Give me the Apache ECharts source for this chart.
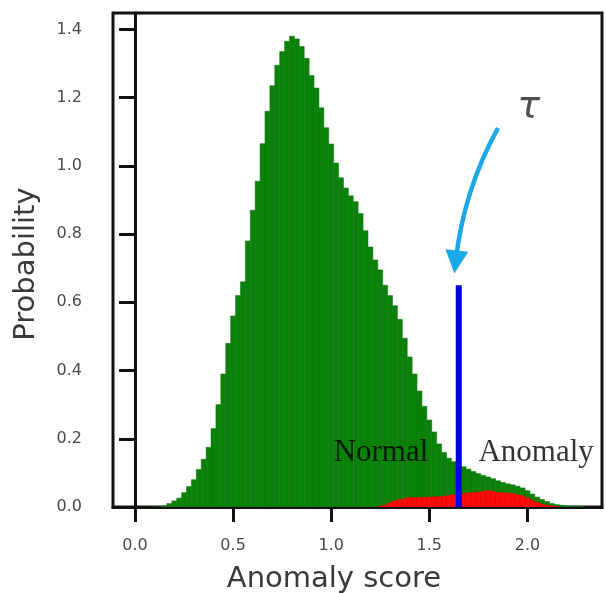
<!DOCTYPE html>
<html>
<head>
    <meta charset="utf-8">
    <title>Anomaly score histogram</title>
    <script src="https://cdn.jsdelivr.net/npm/echarts@6.0.0/dist/echarts.min.js"></script>
    <style>
        html, body { margin: 0; padding: 0; background: #fff; }
        #chart { width: 606px; height: 593px; }
    </style>
</head>
<body>
    <div id="chart"></div>
    <script>
        // bin centres start at 0.10, step 0.025
        var binStart = 0.10;
        var binWidth = 0.025;
        // green histogram (all scores)
        var normalHeights = [
            0.000, 0.000, 0.003, 0.010, 0.018, 0.026, 0.042, 0.060, 0.080, 0.110,
            0.140, 0.175, 0.230, 0.300, 0.390, 0.480, 0.560, 0.620, 0.660, 0.780,
            0.870, 0.955, 1.065, 1.160, 1.235, 1.295, 1.335, 1.365, 1.380, 1.372,
            1.350, 1.315, 1.265, 1.228, 1.170, 1.112, 1.064, 1.008, 0.965, 0.935,
            0.912, 0.895, 0.860, 0.810, 0.762, 0.724, 0.695, 0.650, 0.620, 0.590,
            0.550, 0.495, 0.440, 0.390, 0.340, 0.295, 0.255, 0.220, 0.185, 0.160,
            0.143, 0.133, 0.125, 0.118, 0.111, 0.104, 0.098, 0.093, 0.088, 0.083,
            0.077, 0.072, 0.068, 0.065, 0.061, 0.056, 0.048, 0.038, 0.029, 0.022,
            0.016, 0.010, 0.007, 0.005, 0.003, 0.002, 0.002, 0.001
        ];
        // red histogram (anomalies), first bin centre at 1.25
        var anomalyStart = 1.25;
        var anomalyHeights = [
            0.002, 0.006, 0.012, 0.018, 0.022, 0.025, 0.028, 0.028, 0.028, 0.028,
            0.029, 0.030, 0.030, 0.032, 0.034, 0.036, 0.038, 0.040, 0.041, 0.042,
            0.044, 0.046, 0.048, 0.046, 0.043, 0.042, 0.041, 0.039, 0.036, 0.033,
            0.027, 0.020, 0.014, 0.009, 0.005, 0.003, 0.001
        ];
        var threshold = 1.65;
        var thresholdTop = 0.65;
        var xTicks = [0, 0.5, 1.0, 1.5, 2.0];
        var yTicks = [0, 0.2, 0.4, 0.6, 0.8, 1.0, 1.2, 1.4];
        // annotation anchors, in data units
        var arrowFrom = [1.850, 1.111];
        var arrowTo = [1.634, 0.718];
        var tauPos = [2.006, 1.171];
        var normalPos = [1.495, 0.16];
        var anomalyPos = [1.75, 0.16];

        function toBins(start, heights) {
            return heights.map(function (h, i) {
                var c = start + i * binWidth;
                return [c - binWidth / 2, c + binWidth / 2, h];
            });
        }

        function barRenderer(fill, stroke) {
            return function (params, api) {
                var p0 = api.coord([api.value(0), api.value(2)]);
                var p1 = api.coord([api.value(1), 0]);
                return {
                    type: 'rect',
                    shape: { x: p0[0], y: p0[1], width: p1[0] - p0[0], height: p1[1] - p0[1] },
                    style: { fill: fill, stroke: stroke, lineWidth: 0.5 }
                };
            };
        }

        function textPoint(name, pos, text, align, style) {
            return {
                type: 'scatter',
                name: name,
                data: [pos],
                symbolSize: 1,
                itemStyle: { color: 'rgba(0,0,0,0)' },
                silent: true,
                z: 10,
                label: Object.assign({
                    show: true,
                    position: 'inside',
                    align: align,
                    verticalAlign: 'middle',
                    formatter: text
                }, style)
            };
        }

        var chart = echarts.init(document.getElementById('chart'));
        var serifText = { fontFamily: 'Liberation Serif', fontSize: 31, color: '#000' };

        var option = {
            animation: false,
            grid: {
                left: 113, right: 4, top: 13, bottom: 86,
                containLabel: false,
                outerBoundsMode: 'none',
                show: true, borderColor: '#111', borderWidth: 3
            },
            xAxis: {
                type: 'value',
                min: -0.112,
                max: 2.38,
                name: 'Anomaly score',
                nameLocation: 'middle',
                nameGap: 58,
                nameTextStyle: { fontFamily: 'DejaVu Sans', fontSize: 29, color: '#3a3a3a', padding: [0, 47, 0, 0] },
                axisLine: { onZero: false, lineStyle: { color: '#111', width: 3 } },
                axisTick: { customValues: xTicks, length: 15, lineStyle: { color: '#111', width: 3 } },
                axisLabel: {
                    customValues: xTicks, margin: 31,
                    fontFamily: 'DejaVu Sans', fontSize: 16, color: '#4a4a4a',
                    formatter: function (v) { return v.toFixed(1); }
                },
                splitLine: { show: false }
            },
            yAxis: {
                type: 'value',
                min: 0,
                max: 1.448,
                name: 'Probability',
                nameLocation: 'middle',
                nameGap: 72,
                nameTextStyle: { fontFamily: 'DejaVu Sans', fontSize: 29, color: '#3a3a3a', padding: [0, 8, 0, 0] },
                axisLine: { show: true, lineStyle: { color: '#111', width: 3 } },
                axisTick: { show: true, customValues: yTicks, length: 16, lineStyle: { color: '#111', width: 3 } },
                axisLabel: {
                    customValues: yTicks, margin: 31,
                    fontFamily: 'DejaVu Sans', fontSize: 16, color: '#4a4a4a',
                    formatter: function (v) { return v.toFixed(1); }
                },
                splitLine: { show: false }
            },
            series: [
                {
                    type: 'custom',
                    name: 'Normal',
                    data: toBins(binStart, normalHeights),
                    encode: { x: [0, 1], y: 2 },
                    renderItem: barRenderer('#0a820a', '#087408'),
                    clip: true,
                    z: 2
                },
                {
                    type: 'custom',
                    name: 'Anomaly',
                    data: toBins(anomalyStart, anomalyHeights),
                    encode: { x: [0, 1], y: 2 },
                    renderItem: barRenderer('#ff0a0a', '#e80000'),
                    clip: true,
                    z: 3
                },
                {
                    type: 'line',
                    name: 'threshold',
                    data: [[threshold, 0], [threshold, thresholdTop]],
                    symbol: 'none',
                    lineStyle: { color: '#0000e0', width: 6 },
                    z: 4
                },
                {
                    type: 'lines',
                    name: 'arrow',
                    coordinateSystem: 'cartesian2d',
                    silent: true,
                    symbol: ['none', 'triangle'],
                    symbolSize: 23,
                    lineStyle: { color: '#1aa8e6', width: 4.5, opacity: 1, curveness: -0.10 },
                    data: [{ coords: [arrowFrom, arrowTo] }],
                    z: 5
                },
                textPoint('tau', tauPos, 'τ', 'center',
                    { fontFamily: 'DejaVu Sans', fontStyle: 'italic', fontSize: 38, color: '#222' }),
                textPoint('normalText', normalPos, 'Normal', 'right', serifText),
                textPoint('anomalyText', anomalyPos, 'Anomaly', 'left', serifText)
            ]
        };
        chart.setOption(option);
    </script>
</body>
</html>
